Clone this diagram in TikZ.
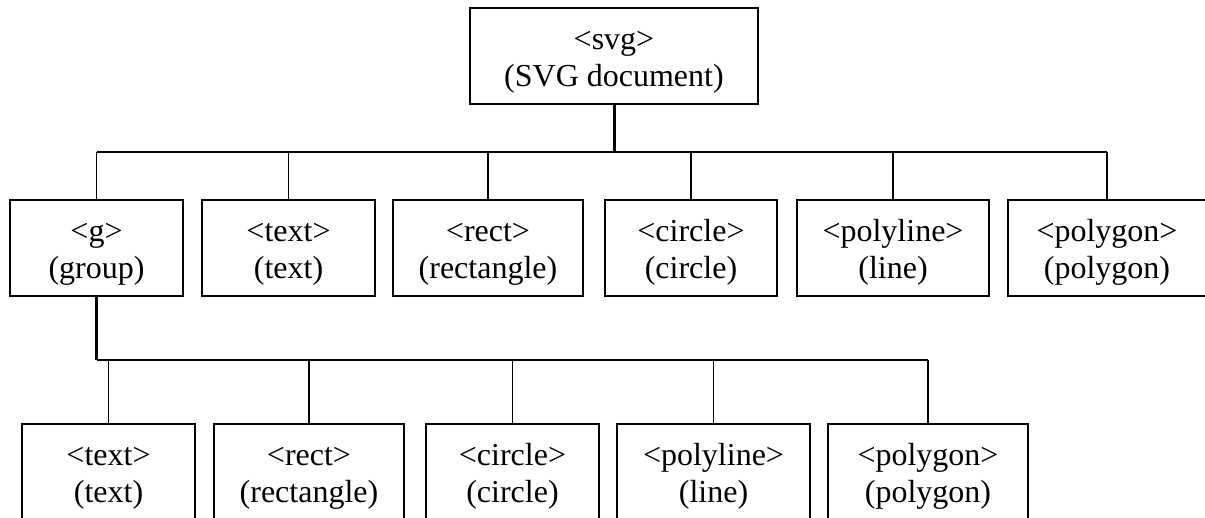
\documentclass[tikz,border=0pt]{standalone}
\usepackage{fontspec}
\setmainfont{Liberation Serif}
\newcommand\upstrut{\rule{0pt}{31pt}}
\begin{document}
\begin{tikzpicture}[x=1pt,y=-1pt,
  elem/.style={draw,line width=1.6pt,minimum height=96pt,inner sep=0pt,align=center,
    font=\fontsize{32}{37}\selectfont},
  conn/.style={line width=1.8pt},
  thick conn/.style={line width=3pt}]
\useasboundingbox (0,0) rectangle (1205,517);
\clip (0,0) rectangle (1205,517);
\node[elem,minimum width=288pt] (svg) at (614,56) {\upstrut<svg>\\(SVG document)};
% row 2
\node[elem,minimum width=173pt] (g) at (96.5,248) {\upstrut<g>\\(group)};
\node[elem,minimum width=173pt] (t1) at (288.5,248) {\upstrut<text>\\(text)};
\node[elem,minimum width=190pt] (r1) at (488,248) {\upstrut<rect>\\(rectangle)};
\node[elem,minimum width=172pt] (c1) at (691,248) {\upstrut<circle>\\(circle)};
\node[elem,minimum width=192pt] (pl1) at (893,248) {\upstrut<polyline>\\(line)};
\node[elem,minimum width=198pt] (pg1) at (1107,248) {\upstrut<polygon>\\(polygon)};
% row 3
\node[elem,minimum width=173pt] (t2) at (108.5,472) {\upstrut<text>\\(text)};
\node[elem,minimum width=190pt] (r2) at (309,472) {\upstrut<rect>\\(rectangle)};
\node[elem,minimum width=173pt] (c2) at (512.5,472) {\upstrut<circle>\\(circle)};
\node[elem,minimum width=193pt] (pl2) at (713.5,472) {\upstrut<polyline>\\(line)};
\node[elem,minimum width=200pt] (pg2) at (928,472) {\upstrut<polygon>\\(polygon)};
% buses
\coordinate (b1) at (0,152);
\coordinate (b2) at (0,360);
\draw[thick conn] (svg.south) -- (svg.south |- b1);
\draw[conn] (g.north |- b1) -- (pg1.north |- b1);
\foreach \n in {g,t1,r1,c1,pl1,pg1} \draw[conn] (\n.north) -- (\n.north |- b1);
\draw[line width=2.2pt] (g.south) -- (g.south |- b2);
\draw[line width=2.2pt] (g.south |- b2) -- (pg2.north |- b2);
\foreach \n in {t2,r2,c2,pl2,pg2} \draw[conn] (\n.north) -- (\n.north |- b2);
\end{tikzpicture}
\end{document}
